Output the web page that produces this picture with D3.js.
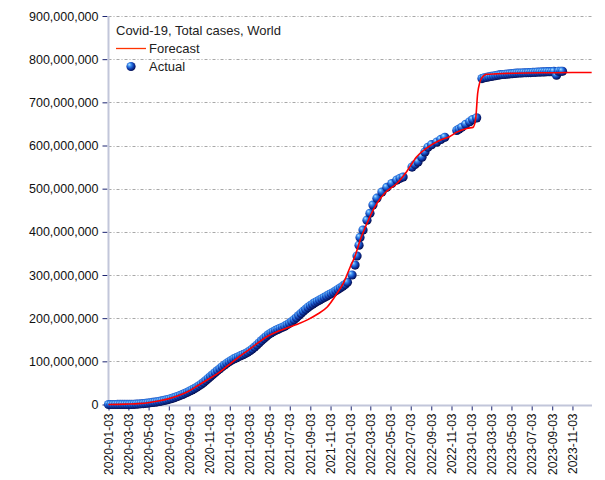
<!DOCTYPE html>
<html><head><meta charset="utf-8">
<script src="https://cdn.jsdelivr.net/npm/d3@7/dist/d3.min.js"></script>
<style>body{margin:0;background:#fff}svg{display:block}text{font-family:"Liberation Sans",Arial,sans-serif}</style>
</head><body><svg id="c" width="605" height="480"></svg>
<script>
// ---- data (values in millions) ----
const startDate = "2020-01-03";
const endDate = "2024-01-01";
const tickLabels = ["2020-01-03","2020-03-03","2020-05-03","2020-07-03","2020-09-03","2020-11-03",
 "2021-01-03","2021-03-03","2021-05-03","2021-07-03","2021-09-03","2021-11-03",
 "2022-01-03","2022-03-03","2022-05-03","2022-07-03","2022-09-03","2022-11-03",
 "2023-01-03","2023-03-03","2023-05-03","2023-07-03","2023-09-03","2023-11-03"];
const yTicks = [0,100,200,300,400,500,600,700,800,900];
// actual: day offset from start, total cases (millions)
const actualDays = [0,7,14,21,28,35,42,49,56,63,70,77,84,91,98,105,112,119,126,133,140,147,154,161,168,175,182,189,196,203,210,217,224,231,238,245,252,259,266,273,280,287,294,301,308,315,322,329,336,343,350,357,364,371,378,385,392,399,406,413,420,427,434,441,448,455,462,469,476,483,490,497,504,511,518,525,532,539,546,553,560,567,574,581,588,595,602,609,616,623,630,637,644,651,658,665,672,679,686,693,700,707,714,721,
 735,744,750,756,759,768,780,789,798,810,825,840,855,870,880,889,
 916,925,934,946,955,964,975,991,1003,1015,
 1051,1058,1066,1078,1090,1099,1111,
 1127,1134,1141,1148,1155,1162,1169,1176,1183,1190,1197,1204,1211,1218,1225,1232,1239,1246,1253,1260,1267,1274,1281,1288,1295,1302,1309,1316,1323,1330,1337,1344,1352,1358,1365,1370];
const actualVals = [0,0,0,0,0.1,0.1,0.1,0.1,0.1,0.1,0.2,0.4,0.8,1.2,1.7,2.2,2.8,3.4,4.1,4.8,5.5,6.3,7.2,8.2,9.4,10.7,12.1,13.6,15.3,17.1,19.1,21.2,23.4,25.8,28.3,31,33.8,36.7,39.8,43.2,47,51.2,55.8,60.5,65,69.5,74,78.5,83,87.5,91.5,95.5,99,102.5,105.5,108,110.5,113,115.5,118,121,124.5,128.5,133,138,143,148,153,157.5,162,165.5,168.5,171.5,174,176.5,179,181.5,184.5,188,192,196.5,201,206,211,216,220.5,225,229,232.5,236,239,242,245,248,251,254,257,260,263.5,267,270.5,274,278,283,
 300,323,344,369,387,404,427,443,462,478,492,503,512,520,524,527,
 550,556,562,573,585,596,602,608,614,619,
 635,638,642,649,655,660,664,
 755,757,758,759,760,761,762,763,764,764.5,765,765.5,766,766.5,767,767.5,768,768,768.5,768.5,769,769,769.5,769.5,770,770,770.5,770.5,771,771,771,771.5,763,772,772,772];
// forecast
const fcDays = [0,30,60,90,120,150,180,210,240,270,300,330,360,390,420,450,480,510,540,570,600,630,660,690,710,729,744,759,780,810,834,870,900,930,960,1000,1030,1051,1084,1100,1108,1114,1120,1126,1141,1170,1202,1260,1320,1400,1458];
const fcVals = [0,0.3,1,2,4,8,13,20,30,44,58,72,90,108,125,142,158,169,178,186,196,209,226,258,283,318,344,380,420,466,490,512,540,574,594,612,621,631,640,642,662,721,745,756,765,766,767,768,768.5,769,769];

// ---- layout ----
const svg = d3.select("#c");
const L = 108.5, R = 592, T = 16, B = 404.5;
const parse = d3.timeParse("%Y-%m-%d");
const t0 = parse(startDate);
const dayDate = d => d3.timeDay.offset(t0, d);
const x = d3.scaleTime().domain([t0, parse(endDate)]).range([L, R]);
const y = d3.scaleLinear().domain([0, 900]).range([B, T]);

const defs = svg.append("defs");
const g = defs.append("radialGradient").attr("id","ball").attr("cx","42%").attr("cy","40%").attr("r","62%").attr("fx","30%").attr("fy","28%");
g.append("stop").attr("offset","0%").attr("stop-color","#b8e4ff");
g.append("stop").attr("offset","30%").attr("stop-color","#3a8ef0");
g.append("stop").attr("offset","62%").attr("stop-color","#1244b8");
g.append("stop").attr("offset","100%").attr("stop-color","#020848");

// gridlines
svg.append("g").selectAll("line").data(yTicks.filter(v=>v>0)).join("line")
  .attr("x1", L).attr("x2", R).attr("y1", d=>Math.round(y(d))+0.5).attr("y2", d=>Math.round(y(d))+0.5)
  .attr("stroke","#a8a8a8").attr("stroke-width",1).attr("stroke-dasharray","3,2,1,2");

// y axis
const yAxis = d3.axisLeft(y).tickValues(yTicks).tickSize(5).tickPadding(4)
  .tickFormat(d => d===0 ? "0" : d3.format(",")(d*1e6));
const ya = svg.append("g").attr("transform",`translate(${L-1},0)`).call(yAxis);
ya.select(".domain").remove();
ya.selectAll(".tick line").attr("stroke","#1c2470");
ya.selectAll(".tick text").attr("font-size","12.5px").attr("fill","#111").attr("font-family","Liberation Sans, Arial, sans-serif");

// x axis
const xAxis = d3.axisBottom(x).tickValues(tickLabels.map(parse)).tickSize(5).tickFormat(d3.timeFormat("%Y-%m-%d"));
const xa = svg.append("g").attr("transform",`translate(0,${B+1})`).call(xAxis);
xa.select(".domain").remove();
xa.selectAll(".tick line").attr("stroke","#1c2470");
xa.selectAll(".tick text").attr("font-size","12px").attr("fill","#111").attr("font-family","Liberation Sans, Arial, sans-serif")
  .attr("text-anchor","end").attr("transform","rotate(-90)").attr("x",-8).attr("y",0).attr("dy","0.35em");

// axis lines
svg.append("line").attr("x1",L).attr("x2",L).attr("y1",T).attr("y2",B+1).attr("stroke","#c2c6da").attr("stroke-width",2);
svg.append("line").attr("x1",L-1).attr("x2",R).attr("y1",B+1).attr("y2",B+1).attr("stroke","#c2c6da").attr("stroke-width",2);

// actual points
const actual = actualDays.map((d,i)=>({date:dayDate(d), v:actualVals[i]}));
svg.append("g").selectAll("circle").data(actual).join("circle")
  .attr("cx", d=>x(d.date)).attr("cy", d=>y(d.v)).attr("r",4.6)
  .attr("fill","url(#ball)");

// forecast line
const fc = fcDays.map((d,i)=>({date:dayDate(d), v:fcVals[i]}));
svg.append("path").datum(fc)
  .attr("d", d3.line().x(d=>x(d.date)).y(d=>y(d.v)).curve(d3.curveMonotoneX))
  .attr("fill","none").attr("stroke","#ff0000").attr("stroke-width",1.6);

// legend
svg.append("text").attr("x",116).attr("y",35).attr("font-size","13px").attr("fill","#222").text("Covid-19, Total cases, World");
svg.append("line").attr("x1",116).attr("x2",146).attr("y1",48.5).attr("y2",48.5).attr("stroke","#ff3300").attr("stroke-width",1.3);
svg.append("text").attr("x",149).attr("y",53).attr("font-size","13px").attr("fill","#222").text("Forecast");
svg.append("circle").attr("cx",131).attr("cy",66.5).attr("r",4.6).attr("fill","url(#ball)");
svg.append("text").attr("x",149).attr("y",71).attr("font-size","13px").attr("fill","#222").text("Actual");
</script></body></html>
